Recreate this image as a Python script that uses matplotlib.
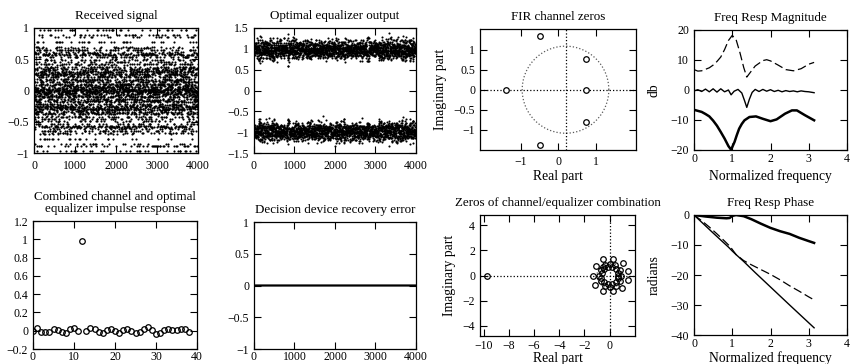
import numpy as np
import matplotlib
matplotlib.use("Agg")
import matplotlib.pyplot as plt
from matplotlib.ticker import FuncFormatter

plt.rcParams['font.family'] = ['Liberation Serif', 'DejaVu Serif']
plt.rcParams['axes.unicode_minus'] = True

# ---------------------------------------------------------------- data
n_samples = 4000
# transmitted binary source (+1 / -1), written as hex digits
source_bits_hex = (
    "9f3a61c07be24d58a1e6f0937c2b5d84e7190af6"
    "3c58d27e0b946fa1c83e57d2094b6ae1f73c8d05"
    "b61e4a97d320f8c55ea7093b6d1c48f2a90e7b34"
    "d84c17f6a52e0b9378c1d6e45fa20b7c9316e8d4"
    "2af79c03e5b86d14f0a3c7592e8b61d4079fc3a8"
    "e1056b9d84c7f23a5e9016cb78d43af05e2b9c71"
    "7d38a0f5c2691eb47a03d8f65c19e2b7048ad3f6"
    "48c9e1b07a256df3e8194c0b7f6a52d93e0c8b15"
    "c72f0a6e39d51b84f26c9a07e3b58d41f9a6027c"
    "0e9b4d73a6c81f25b03e9d7a64c12f8e5b70a39d"
    "a5d16f283c9e07b4d2a85f1c6e93b07d4a2f8c61"
    "6b0ed39a47f1c825e06b4d9fa3728c15e0d7b94a"
    "f4837c1e0a5d92b6c38ef7041a9d5c26b8e3074f"
    "1c6a85f2e97b30d4c1a6f8e2059b73d4e8c06a1b"
    "d93e0b7146af85c2e0d93b7a1f64c58e2907bd3c"
    "5a27e8c0f14b96d3a7052ec8b61f9d034ae7c285"
    "83f1d6a04e7c2b95f30e8d1a6c47b92e5d0f83a6"
    "2e6c94b1f78d03a5c9e261f0b84d7a3e0c95b26f"
    "b07d3e58a2c16f9e4b0d87a53f2c1e96d48b0a7e"
    "49a2f60d8c37e1b5a9f04c6e2d873b1f05ac9e68"
    "e6b83c05f9a14d7e2c068fb39a5d1e4c7b20f8d3"
    "0d5f7a29c6e84b13f07d9e5a2c68b14f3e9a0c57"
    "7c1b4e86d03f9a25e7c14b80f6d2a39e58c07b1d"
    "a83d062f5e9c47b1d8a3f0e62c95b7140fd6a8e2"
    "3f90c5b7e12a6d84f3b0e9c57a1d26f84b0e3c9a"
    "5b9e2d07c4a18f63e0b7d2594ca1e8f30b6d7c42"
)

# FIR channel zeros, as drawn on the z-plane plot (tick coordinates)
channel_zero_re = [-1.38, 0.75, 0.75, 0.75, -0.49, -0.49]
channel_zero_im = [0.0, 0.0, 0.78, -0.81, 1.35, -1.39]
# the drawn unit circle (centre and radii in those tick coordinates)
zplane_origin_x = 0.20
zplane_circle_rx = 1.155
zplane_circle_ry = 1.09
# largest |received| value seen in the received-signal panel
received_peak = 0.97

# combined channel + equalizer impulse response (taps 0..38)
impulse_response = [0.0, 0.03, -0.01, -0.015, -0.015, 0.02, 0.01, -0.01,
                    -0.02, 0.02, 0.035, 0.0, 0.98, 0.0, 0.03, 0.015,
                    -0.015, -0.02, 0.01, 0.02, 0.0, -0.02, 0.005, 0.02,
                    0.0, -0.03, -0.015, 0.02, 0.04, 0.01, -0.035, -0.02,
                    0.005, 0.015, 0.005, 0.005, 0.02, 0.015, -0.015]

# zeros of channel/equalizer combination
combo_zero_re = [-9.73, 0.64,
                 -1.28, -1.07, -1.15, -0.53, -0.53, 0.27, 0.27, 1.07, 1.0, 1.47, 1.47,
                 0.93, 0.80, 0.47, 0.05, -0.38, -0.72, -0.83, -0.72, -0.40, 0.05, 0.50, 0.82,
                 0.70, 0.52, 0.22, -0.14, -0.46, -0.64, -0.66, -0.48, -0.16, 0.22, 0.52, 0.70,
                 -0.55]
combo_zero_im = [0.0, 0.0,
                 0.0, 0.79, -0.79, 1.27, -1.24, 1.27, -1.24, 1.0, -0.98, 0.34, -0.37,
                 0.0, 0.46, 0.80, 0.90, 0.80, 0.46, 0.0, -0.46, -0.80, -0.90, -0.80, -0.46,
                 0.19, 0.50, 0.69, 0.70, 0.52, 0.19, -0.19, -0.52, -0.70, -0.69, -0.50, -0.19,
                 0.65]

# frequency response magnitude (dB) vs normalized frequency
eq_mag_w = [0.0, 0.1, 0.2, 0.3, 0.4, 0.5, 0.6, 0.7, 0.8, 0.9, 1.0, 1.1, 1.2, 1.3,
            1.38, 1.45, 1.6, 1.8, 1.9, 2.0, 2.2, 2.4, 2.6, 2.8, 3.0, 3.14]
eq_mag_db = [6.8, 6.3, 6.4, 6.9, 7.4, 8.3, 9.5, 11.0, 13.5, 16.5, 18.2, 16.8, 12.5, 7.5,
             4.3, 5.5, 8.0, 9.8, 10.1, 9.7, 8.3, 6.8, 6.4, 7.1, 8.6, 9.2]
combo_mag_w = [0.0, 0.1, 0.2, 0.3, 0.4, 0.5, 0.6, 0.7, 0.8, 0.9, 0.97, 1.05, 1.15, 1.25,
               1.32, 1.38, 1.45, 1.52, 1.6, 1.7, 1.8, 1.9, 2.0, 2.1, 2.2, 2.3, 2.4, 2.5,
               2.6, 2.7, 2.8, 2.9, 3.0, 3.14]
combo_mag_db = [-0.3, 0.1, -0.5, 0.3, -0.6, 0.4, -0.7, 0.4, -0.6, 0.0, -1.6, -0.4, 0.2,
                -1.0, -3.5, -5.8, -3.0, -0.8, 0.2, -0.5, 0.2, -0.4, 0.1, -0.5, -0.1, -0.6,
                -0.2, -0.5, -0.3, -0.6, -0.3, -0.5, -0.6, -0.9]
chan_mag_w = [0.0, 0.2, 0.3, 0.4, 0.5, 0.6, 0.7, 0.8, 0.9, 0.97, 1.06, 1.12, 1.18, 1.25,
              1.32, 1.45, 1.62, 1.8, 2.0, 2.16, 2.38, 2.56, 2.69, 2.9, 3.14]
chan_mag_db = [-6.6, -7.3, -8.0, -8.8, -10.2, -11.9, -14.0, -16.2, -18.7, -19.9, -17.3,
               -15.0, -12.9, -11.3, -10.1, -9.0, -8.8, -9.6, -10.4, -9.8, -7.9, -6.8,
               -6.8, -8.4, -10.1]

# frequency response phase (radians)
chan_ph_w = [0.0, 0.3, 0.6, 0.85, 0.93, 1.0, 1.1, 1.3, 1.5, 1.75, 2.0, 2.25, 2.5, 2.75,
             3.0, 3.14]
chan_ph = [0.0, -0.5, -0.9, -1.1, -1.0, -0.3, 0.0, -0.4, -1.4, -2.9, -4.3, -5.4, -6.3,
           -7.6, -8.7, -9.3]
eq_ph_w = [0.0, 0.2, 0.4, 0.6, 0.8, 0.95, 1.1, 1.3, 1.5, 1.75, 2.0, 2.25, 2.5, 2.75,
           3.0, 3.14]
eq_ph = [0.0, -1.9, -4.0, -6.3, -8.7, -10.6, -13.2, -15.2, -16.6, -18.2, -19.8, -21.6,
         -23.6, -25.4, -27.3, -28.3]
combo_ph_w = [0.0, 0.5, 0.9, 1.0, 1.1, 1.3, 1.6, 2.0, 2.5, 3.14]
combo_ph = [0.0, -6.0, -10.7, -12.0, -13.2, -15.5, -19.2, -24.0, -30.0, -37.6]

# ---------------------------------------------------------------- signals
nib = np.array([int(c, 16) for c in source_bits_hex])
bits = ((nib[:, None] >> np.array([3, 2, 1, 0])) & 1).ravel()[:n_samples]
symbols = 2.0 * bits - 1.0
zeros_true = ((np.array(channel_zero_re) - zplane_origin_x) / zplane_circle_rx
              + 1j * np.array(channel_zero_im) / zplane_circle_ry)
channel_taps = np.poly(zeros_true).real
channel_taps = channel_taps / np.abs(channel_taps).sum() * received_peak
received = np.convolve(symbols, channel_taps)[:len(symbols)]
h = np.array(impulse_response)
delay = int(np.argmax(h))
eq_out = np.convolve(symbols, h)[delay:delay + len(symbols)]
decision_error = np.sign(eq_out) - symbols
t = np.arange(1, len(symbols) + 1)

# ---------------------------------------------------------------- figure
W, H = 852, 364
fig = plt.figure(figsize=(W / 100, H / 100), dpi=100)


def fmt(v, pos):
    if abs(v) < 1e-9:
        return "0"
    return ("%g" % v).replace("-", "\u2212")


def make_ax(l, r, t_, b, xpad=5):
    ax = fig.add_axes([l / W, 1 - b / H, (r - l) / W, (b - t_) / H])
    ax.tick_params(direction='in', top=True, right=True, length=5, width=0.8,
                   labelsize=8.5, colors='k')
    ax.tick_params(axis='x', pad=xpad)
    ax.tick_params(axis='y', pad=3.5)
    for s in ax.spines.values():
        s.set_linewidth(0.9)
    ax.xaxis.set_major_formatter(FuncFormatter(fmt))
    ax.yaxis.set_major_formatter(FuncFormatter(fmt))
    return ax


TS = 9.4
LS = 9.8
TP = 6.5
th = np.linspace(0, 2 * np.pi, 300)

# 1 received signal
ax = make_ax(34, 198, 28, 153)
ax.plot(t, received, 'o', ms=1.55, mew=0, color='k')
ax.set_xlim(0, 4000); ax.set_ylim(-1, 1)
ax.set_xticks([0, 1000, 2000, 3000, 4000]); ax.set_yticks([-1, -0.5, 0, 0.5, 1])
ax.set_title("Received signal", fontsize=TS, pad=TP)

# 2 equalizer output
ax = make_ax(254, 416, 28, 153)
ax.plot(t, eq_out, 'o', ms=1.5, mew=0, color='k')
ax.set_xlim(0, 4000); ax.set_ylim(-1.5, 1.5)
ax.set_xticks([0, 1000, 2000, 3000, 4000]); ax.set_yticks([-1.5, -1, -0.5, 0, 0.5, 1, 1.5])
ax.set_title("Optimal equalizer output", fontsize=TS, pad=TP)

# 3 FIR channel zeros
ax = make_ax(480, 636, 29, 150, xpad=4)
ax.plot(zplane_origin_x + zplane_circle_rx * np.cos(th), zplane_circle_ry * np.sin(th),
        ':', color='0.35', lw=0.9)
ax.axhline(0, ls=':', color='k', lw=0.9)
ax.axvline(zplane_origin_x, ls=':', color='k', lw=0.9)
ax.plot(channel_zero_re, channel_zero_im, 'o', mfc='white', mec='k', ms=4, mew=0.9)
ax.set_xlim(-2.08, 2.08); ax.set_ylim(-1.51, 1.52)
ax.set_xticks([-1, 0, 1]); ax.set_yticks([-1, -0.5, 0, 0.5, 1])
ax.set_title("FIR channel zeros", fontsize=TS, pad=TP)
ax.set_xlabel("Real part", fontsize=LS, labelpad=2)
ax.set_ylabel("Imaginary part", fontsize=LS, labelpad=5)

# 4 freq resp magnitude
ax = make_ax(694, 847, 30, 150, xpad=2)
ax.plot(eq_mag_w, eq_mag_db, color='k', lw=0.9, dashes=(7, 3))
ax.plot(combo_mag_w, combo_mag_db, color='k', lw=1.0)
ax.plot(chan_mag_w, chan_mag_db, color='k', lw=1.8)
ax.set_xlim(0, 4); ax.set_ylim(-20, 20)
ax.set_xticks([0, 1, 2, 3, 4]); ax.set_yticks([-20, -10, 0, 10, 20])
ax.set_title("Freq Resp Magnitude", fontsize=TS, pad=TP)
ax.set_xlabel("Normalized frequency", fontsize=LS, labelpad=3)
ax.set_ylabel("db", fontsize=LS, labelpad=7)

# 5 impulse response
ax = make_ax(33, 197, 221, 349, xpad=1.5)
ax.plot(np.arange(len(impulse_response)), impulse_response, 'o', mfc='none', mec='k',
        ms=4, mew=0.9)
ax.set_xlim(0, 40); ax.set_ylim(-0.2, 1.2)
ax.set_xticks([0, 10, 20, 30, 40]); ax.set_yticks([-0.2, 0, 0.2, 0.4, 0.6, 0.8, 1, 1.2])
ax.set_title("Combined channel and optimal\nequalizer impulse response", fontsize=TS,
             pad=TP, linespacing=1.05)

# 6 decision error
ax = make_ax(254, 416, 222, 349, xpad=1.5)
ax.plot(t, decision_error, color='k', lw=1.6)
ax.set_xlim(0, 4000); ax.set_ylim(-1, 1)
ax.set_xticks([0, 1000, 2000, 3000, 4000]); ax.set_yticks([-1, -0.5, 0, 0.5, 1])
ax.set_title("Decision device recovery error", fontsize=TS, pad=TP)

# 7 combination zeros
ax = make_ax(480, 635, 215, 336, xpad=3)
ax.plot(np.cos(th), np.sin(th), ':', color='0.35', lw=0.9)
ax.axhline(0, ls=':', color='k', lw=0.9)
ax.axvline(0, ls=':', color='k', lw=0.9)
ax.plot(combo_zero_re, combo_zero_im, 'o', mfc='none', mec='k', ms=4, mew=0.9)
ax.set_xlim(-10.3, 2.02); ax.set_ylim(-4.8, 4.8)
ax.set_xticks([-10, -8, -6, -4, -2, 0]); ax.set_yticks([-4, -2, 0, 2, 4])
ax.set_title("Zeros of channel/equalizer combination", fontsize=TS, pad=TP)
ax.set_xlabel("Real part", fontsize=LS, labelpad=0)
ax.set_ylabel("Imaginary part", fontsize=LS, labelpad=5)

# 8 phase
ax = make_ax(694, 847, 215, 335, xpad=2)
ax.plot(chan_ph_w, chan_ph, color='k', lw=1.8)
ax.plot(eq_ph_w, eq_ph, color='k', lw=0.9, dashes=(7, 3))
ax.plot(combo_ph_w, combo_ph, color='k', lw=1.0)
ax.set_xlim(0, 4); ax.set_ylim(-40, 0)
ax.set_xticks([0, 1, 2, 3, 4]); ax.set_yticks([-40, -30, -20, -10, 0])
ax.set_title("Freq Resp Phase", fontsize=TS, pad=TP)
ax.set_xlabel("Normalized frequency", fontsize=LS, labelpad=1)
ax.set_ylabel("radians", fontsize=LS, labelpad=7)

fig.savefig("out.png", dpi=100)
